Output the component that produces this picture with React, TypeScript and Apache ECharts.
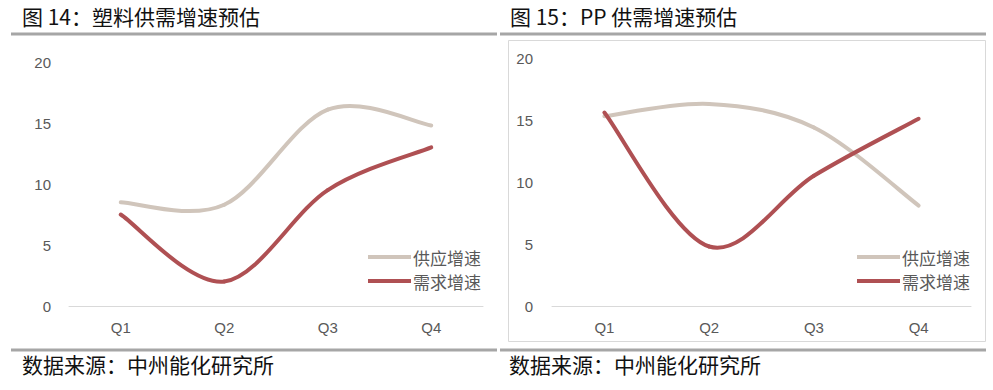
import React, { useEffect, useRef } from "react";
import * as echarts from "echarts";

const categories = ["Q1", "Q2", "Q3", "Q4"];
const plasticSupply = [8.5, 8.3, 16.1, 14.8];
const plasticDemand = [7.5, 2.0, 9.5, 13.0];
const ppSupply = [15.3, 16.3, 14.4, 8.1];
const ppDemand = [15.6, 4.8, 10.5, 15.1];
const seriesNames = ["供应增速", "需求增速"];
const title1 = "图 14：塑料供需增速预估";
const title2 = "图 15：PP 供需增速预估";
const sourceText = "数据来源：中州能化研究所";

const SUPPLY = "#D0C5BB";
const DEMAND = "#AF5053";
const LABEL = "#595959";
const CJK = "'Noto Sans CJK SC', sans-serif";
const NUM = "'Liberation Sans', 'Noto Sans', sans-serif";

export default function App() {
  const ref = useRef<HTMLDivElement>(null);
  useEffect(() => {
    const chart = echarts.init(ref.current!, null, { renderer: "svg" });
    const yAxis = (i: number) => ({
      type: "value",
      gridIndex: i,
      min: 0,
      max: 20,
      interval: 5,
      axisLine: { show: false },
      axisTick: { show: false },
      splitLine: { show: false },
      axisLabel: { color: LABEL, fontSize: 15, fontFamily: NUM, margin: i === 0 ? 18 : 19 },
    });
    const xAxis = (i: number) => ({
      type: "category",
      gridIndex: i,
      data: categories,
      boundaryGap: true,
      axisLine: { show: true, lineStyle: { color: "#D9D9D9", width: 1 } },
      axisTick: { show: false },
      axisLabel: { color: LABEL, fontSize: 15, fontFamily: NUM, margin: 14 },
    });
    // Excel-like Catmull-Rom smoothing, drawn segment by segment through the axes' coords
    const line = (name: string, values: number[], color: string, i: number) => ({
      name,
      type: "custom",
      xAxisIndex: i,
      yAxisIndex: i,
      data: values.map((v, k) => [k, v]),
      encode: { x: 0, y: 1 },
      itemStyle: { color },
      renderItem: (params: any, api: any) => {
        const k = params.dataIndex;
        const n = values.length;
        if (k >= n - 1) return null;
        const pt = (j: number) => {
          const jj = Math.max(0, Math.min(n - 1, j));
          return api.coord([jj, values[jj]]);
        };
        const p0 = pt(k - 1), p1 = pt(k), p2 = pt(k + 1), p3 = pt(k + 2);
        const c1 = [p1[0] + (p2[0] - p0[0]) / 6, p1[1] + (p2[1] - p0[1]) / 6];
        const c2 = [p2[0] - (p3[0] - p1[0]) / 6, p2[1] - (p3[1] - p1[1]) / 6];
        return {
          type: "bezierCurve",
          shape: { x1: p1[0], y1: p1[1], cpx1: c1[0], cpy1: c1[1], cpx2: c2[0], cpy2: c2[1], x2: p2[0], y2: p2[1] },
          style: { stroke: color, lineWidth: 4, fill: "none", lineCap: "round" },
        };
      },
    });
    const legend = (left: number) => ({
      orient: "vertical",
      left,
      top: 248,
      padding: 0,
      data: seriesNames,
      icon: "rect",
      itemWidth: 43,
      itemHeight: 4,
      itemGap: 6,
      textStyle: { color: LABEL, fontSize: 17, fontFamily: CJK, lineHeight: 18, padding: [0, 0, 0, -3] },
    });
    chart.setOption({
      animation: false,
      grid: [
        { left: 69, right: 510, top: 62, bottom: 84 },
        { left: 552, right: 22, top: 58, bottom: 84 },
      ],
      xAxis: [xAxis(0), xAxis(1)],
      yAxis: [yAxis(0), yAxis(1)],
      legend: [legend(368), legend(857)],
      series: [
        line(seriesNames[0], plasticSupply, SUPPLY, 0),
        line(seriesNames[1], plasticDemand, DEMAND, 0),
        line(seriesNames[0], ppSupply, SUPPLY, 1),
        line(seriesNames[1], ppDemand, DEMAND, 1),
      ],
      graphic: [
        { type: "text", left: 22, top: 5, style: { text: title1, fontSize: 21, fontFamily: CJK, fill: "#111" } },
        { type: "text", left: 510, top: 5, style: { text: title2, fontSize: 21, fontFamily: CJK, fill: "#111" } },
        { type: "line", shape: { x1: 11, y1: 34, x2: 497, y2: 34 }, style: { stroke: "#A6A6A6", lineWidth: 3 } },
        { type: "line", shape: { x1: 500, y1: 34, x2: 986, y2: 34 }, style: { stroke: "#A6A6A6", lineWidth: 3 } },
        { type: "rect", shape: { x: 508.5, y: 40.5, width: 477, height: 301 }, style: { fill: "none", stroke: "#D9D9D9", lineWidth: 1 } },
        { type: "line", shape: { x1: 11, y1: 350, x2: 497, y2: 350 }, style: { stroke: "#A6A6A6", lineWidth: 3 } },
        { type: "line", shape: { x1: 500, y1: 350, x2: 986, y2: 350 }, style: { stroke: "#A6A6A6", lineWidth: 3 } },
        { type: "text", left: 22, top: 353, style: { text: sourceText, fontSize: 21, fontFamily: CJK, fill: "#111" } },
        { type: "text", left: 509, top: 353, style: { text: sourceText, fontSize: 21, fontFamily: CJK, fill: "#111" } },
      ],
    });
    return () => chart.dispose();
  }, []);
  return (
    <div
      ref={ref}
      style={{ position: "fixed", left: 0, top: 0, width: 993, height: 390, background: "#fff" }}
    />
  );
}
